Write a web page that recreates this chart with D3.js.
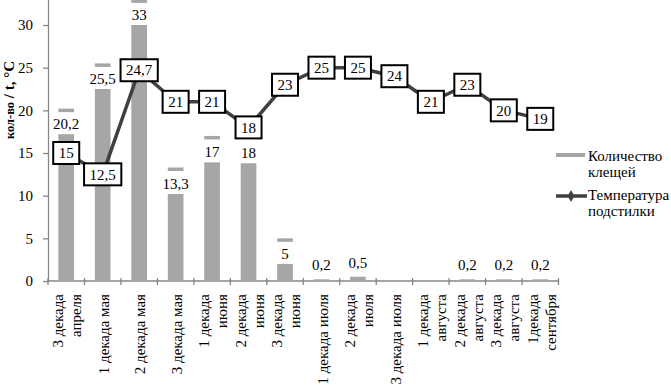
<!DOCTYPE html>
<html>
<head>
<meta charset="utf-8">
<script src="https://cdn.jsdelivr.net/npm/d3@7"></script>
<style>
  html, body { margin: 0; padding: 0; background: #fff; }
  svg { display: block; font-family: "Liberation Serif", "Times New Roman", serif; }
</style>
</head>
<body>
<svg id="chart" width="671" height="385"></svg>
<script>
// decades (x categories), each label split into lines
const categories = [
  ['3 декада', 'апреля'],
  ['1 декада мая'],
  ['2 декада мая'],
  ['3 декада мая'],
  ['1 декада', 'июня'],
  ['2 декада', 'июня'],
  ['3 декада', 'июня'],
  ['1 декада июля'],
  ['2 декада', 'июля'],
  ['3 декада июля'],
  ['1 декада', 'августа'],
  ['2 декада', 'августа'],
  ['3 декада', 'августа'],
  ['1декада', 'сентября']
];

// number of ticks (bar series) – labelled values
const tickCount = [20.2, 25.5, 33, 13.3, 17, 18, 5, 0.2, 0.5, null, null, 0.2, 0.2, 0.2];
// visible front face height of each column (the chart is drawn with a depth offset)
const barFront = [17.2, 22.5, 30, 10.2, 13.9, 13.8, 2, 0, 0, 0, 0, 0, 0, 0];
// litter temperature (line series)
const temperature = [15, 12.5, 24.7, 21, 21, 18, 23, 25, 25, 24, 21, 23, 20, 19];

const yTicks = [0, 5, 10, 15, 20, 25, 30];
const legendItems = [['Количество', 'клещей'], ['Температура', 'подстилки']];

const fmt = v => String(v).replace('.', ',');

const svg = d3.select('#chart');
const barColor = '#a6a6a6';
const lineColor = '#404040';
const axisColor = '#868686';
const fs = '15px';

const x = d3.scaleBand()
  .domain(d3.range(categories.length))
  .range([48, 558.5])
  .padding(0);

const y = d3.scaleLinear()
  .domain([0, 35])
  .range([281, 281 - 35 * 8.533]);

// y axis
const yAxis = svg.append('g')
  .attr('transform', 'translate(48,0)')
  .call(d3.axisLeft(y).tickValues(yTicks).tickSize(5).tickPadding(10).tickSizeOuter(0));
yAxis.selectAll('text')
  .attr('font-family', '"Liberation Serif", serif')
  .attr('font-size', fs)
  .attr('fill', '#000');
yAxis.selectAll('.domain, .tick line').attr('stroke', axisColor).attr('stroke-width', 1.3);

// x axis line + ticks at category boundaries
const xAxis = svg.append('g');
xAxis.append('line')
  .attr('x1', 48).attr('x2', 558.5)
  .attr('y1', y(0)).attr('y2', y(0))
  .attr('stroke', axisColor).attr('stroke-width', 1.3);
xAxis.selectAll('.xtick')
  .data(d3.range(categories.length + 1))
  .join('line')
  .attr('class', 'xtick')
  .attr('x1', i => 48 + i * x.bandwidth())
  .attr('x2', i => 48 + i * x.bandwidth())
  .attr('y1', y(0) - 3).attr('y2', y(0) + 4)
  .attr('stroke', axisColor).attr('stroke-width', 1.3);

const lh = 18;
xAxis.selectAll('.xlabel')
  .data(categories)
  .join('text')
  .attr('class', 'xlabel')
  .attr('transform', (d, i) => `translate(${x(i) + x.bandwidth() / 2 + 1},294) rotate(-90)`)
  .attr('text-anchor', 'end')
  .attr('font-size', fs)
  .attr('fill', '#000')
  .each(function (lines) {
    const t = d3.select(this);
    lines.forEach((ln, k) => {
      t.append('tspan')
        .attr('x', 0)
        .attr('y', k * lh - (lines.length - 1) * lh / 2)
        .attr('dy', '0.35em')
        .text(ln);
    });
  });

// bars
const barW = x.bandwidth() * 0.43;
const bars = svg.append('g');
tickCount.forEach((v, i) => {
  if (v === null) return;
  const cx = x(i) + x.bandwidth() / 2;
  if (barFront[i] > 0) {
    bars.append('rect')
      .attr('x', cx - barW / 2)
      .attr('y', y(barFront[i]))
      .attr('width', barW)
      .attr('height', y(0) - y(barFront[i]))
      .attr('fill', barColor);
  }
  const top = y(v);
  bars.append('rect')
    .attr('x', cx - barW / 2)
    .attr('y', top)
    .attr('width', barW)
    .attr('height', Math.min(3.5, y(0) - top))
    .attr('fill', barColor);
  const base = barFront[i] > 0 ? y(barFront[i]) - 5 : top - 9;
  bars.append('text')
    .attr('x', cx)
    .attr('y', base)
    .attr('text-anchor', 'middle')
    .attr('font-size', fs)
    .attr('fill', '#000')
    .text(fmt(v));
});

// temperature line
const line = d3.line()
  .x((d, i) => x(i) + x.bandwidth() / 2)
  .y(d => y(d));

svg.append('path')
  .datum(temperature)
  .attr('d', line)
  .attr('fill', 'none')
  .attr('stroke', lineColor)
  .attr('stroke-width', 3.5);

// value boxes on the line
const boxes = svg.append('g');
temperature.forEach((v, i) => {
  const cx = x(i) + x.bandwidth() / 2;
  const cy = y(v);
  const g = boxes.append('g');
  const rect = g.append('rect');
  const txt = g.append('text')
    .attr('x', cx)
    .attr('y', cy)
    .attr('dy', '0.35em')
    .attr('text-anchor', 'middle')
    .attr('font-size', fs)
    .attr('fill', '#000')
    .text(fmt(v));
  const w = txt.node().getComputedTextLength() + 11;
  rect.attr('x', cx - w / 2)
    .attr('y', cy - 11)
    .attr('width', w)
    .attr('height', 22)
    .attr('fill', '#fff')
    .attr('stroke', '#000')
    .attr('stroke-width', 2);
});

// y title: smaller "кол-во", larger "/ t, °C"
const title = svg.append('text')
  .attr('transform', 'translate(14,100) rotate(-90)')
  .attr('text-anchor', 'middle')
  .attr('font-weight', 'bold')
  .attr('fill', '#000');
title.append('tspan').attr('font-size', '12.5px').text('кол-во');
title.append('tspan').attr('font-size', '15px').text(' / t, °C');

// legend
const legend = svg.append('g');
legend.append('rect')
  .attr('x', 556).attr('y', 153)
  .attr('width', 29).attr('height', 4)
  .attr('fill', barColor);
legend.append('line')
  .attr('x1', 556).attr('x2', 587)
  .attr('y1', 196).attr('y2', 196)
  .attr('stroke', lineColor).attr('stroke-width', 3.5);
legend.append('path')
  .attr('d', d3.symbol(d3.symbolDiamond, 40)())
  .attr('transform', 'translate(571,196)')
  .attr('fill', lineColor);
legendItems.forEach((lines, k) => {
  const t = legend.append('text')
    .attr('font-size', fs)
    .attr('fill', '#000');
  lines.forEach((ln, j) => {
    t.append('tspan')
      .attr('x', 588)
      .attr('y', 161 + k * 39 + j * 15.5)
      .text(ln);
  });
});
</script>
</body>
</html>
